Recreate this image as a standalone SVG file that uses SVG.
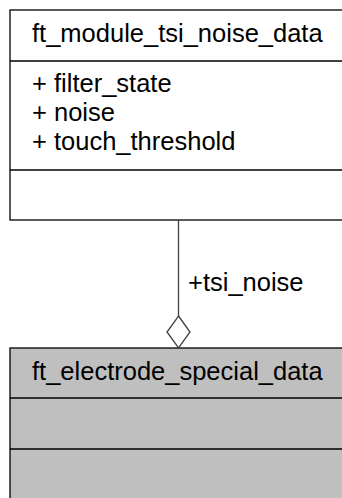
<svg xmlns="http://www.w3.org/2000/svg" width="342" height="498" viewBox="0 0 342 498">
<style>
text{font-family:"Liberation Sans",Arial,sans-serif;font-size:25.5px;fill:#000}
.box{stroke:#000;stroke-width:1.3}
.conn{stroke:#404040;stroke-width:1.3;fill:none}
</style>
<rect width="342" height="498" fill="#fff"/>
<g id="ft_module_tsi_noise_data">
<rect class="box" x="10" y="10" width="345" height="210" fill="#fff"/>
<line class="box" x1="10" y1="61" x2="355" y2="61"/>
<line class="box" x1="10" y1="170" x2="355" y2="170"/>
<text x="32" y="42">ft_module_tsi_noise_data</text>
<text x="32" y="92">+ filter_state</text>
<text x="32" y="121">+ noise</text>
<text x="32" y="150">+ touch_threshold</text>
</g>
<g id="ft_electrode_special_data">
<rect class="box" x="10" y="348" width="345" height="160" fill="#bfbfbf"/>
<line class="box" x1="10" y1="398" x2="355" y2="398"/>
<line class="box" x1="10" y1="449" x2="355" y2="449"/>
<text x="32" y="380">ft_electrode_special_data</text>
</g>
<g id="connectors">
<line class="conn" x1="178.5" y1="220" x2="178.5" y2="316"/>
<polygon class="conn" points="178.5,316 190,332 178.5,348 167,332" fill="#fff"/>
<text x="188" y="291">+tsi_noise</text>
</g>
</svg>
